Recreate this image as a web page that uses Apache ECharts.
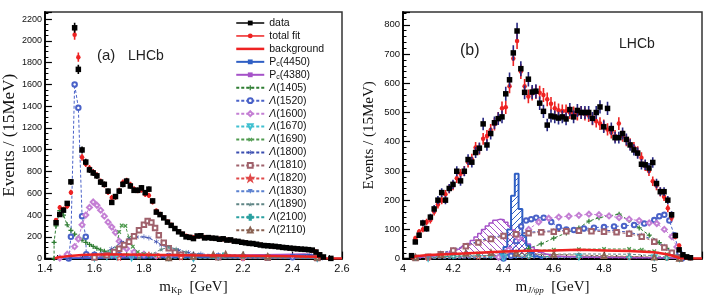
<!DOCTYPE html>
<html><head><meta charset="utf-8">
<script src="https://cdn.jsdelivr.net/npm/echarts@6/dist/echarts.min.js"></script>
<style>html,body{margin:0;padding:0;background:#fff}#c{width:708px;height:300px}</style>
</head><body><div id="c"></div>
<script>
// ---------------- data: panel (a), m_Kp, 15 MeV bins ----------------
const kpStart = 1.445, kpStep = 0.015;
const kpData = [330,405,445,507,705,2120,1738,998,887,815,787,760,703,682,620,516,570,620,682,712,667,627,627,650,606,638,530,427,404,374,335,305,276,246,225,200,195,184,208,210,190,193,188,186,178,182,170,172,160,158,150,145,140,138,132,125,120,118,115,112,108,103,100,96,93,90,87,85,82,78,60,35,15,null,2];
const kpFit = [355,470,455,480,608,2055,1850,930,870,830,795,765,710,680,610,560,565,625,700,715,680,640,625,630,590,580,520,440,410,375,340,310,280,250,228,210,200,195,205,205,198,195,190,186,183,178,172,168,162,158,152,148,142,138,132,127,122,118,114,110,106,102,98,94,90,88,85,82,80,75,65,40,15];
const kpBkg = [[1.44,0],[1.45,10],[1.5,25],[1.55,33],[1.6,38],[1.7,38],[1.8,35],[1.9,33],[2.0,30],[2.1,28],[2.2,26],[2.3,24],[2.4,22],[2.5,18],[2.52,5],[2.53,0],[2.6,0]];
const kpPc4450 = [[1.45,0],[1.5,2],[1.7,5],[1.9,10],[2.1,14],[2.3,20],[2.4,28],[2.47,35],[2.5,22],[2.52,3]];
const kpPc4380 = [[1.45,1],[1.6,12],[1.8,22],[2.0,28],[2.2,32],[2.35,38],[2.45,42],[2.5,28],[2.52,4]];
const kpL1405 = [[1.437,0],[1.437,150],[1.445,300],[1.46,440],[1.475,400],[1.49,310],[1.505,260],[1.52,225],[1.535,195],[1.55,170],[1.565,150],[1.58,130],[1.595,112],[1.61,95],[1.625,80],[1.64,68],[1.655,58],[1.67,50],[1.7,42],[1.73,38],[1.76,35],[1.79,32],[1.82,28],[1.85,22],[1.9,15],[1.95,10],[2.0,6],[2.1,4],[2.3,2],[2.5,0]];
const kpL1520 = [[1.496,0],[1.497,20],[1.505,200],[1.52,1600],[1.535,1385],[1.55,390],[1.565,200],[1.567,40],[1.6,35],[1.65,32],[1.7,30],[1.8,28],[1.9,25],[2.0,22],[2.1,20],[2.2,18],[2.3,15],[2.4,12],[2.5,10]];
const kpL1600 = [[1.46,5],[1.49,40],[1.52,110],[1.535,180],[1.55,310],[1.565,400],[1.58,470],[1.595,520],[1.61,490],[1.625,445],[1.64,390],[1.655,335],[1.67,290],[1.685,240],[1.70,160],[1.715,115],[1.73,90],[1.76,60],[1.8,40],[1.85,25],[1.9,15],[2.0,10],[2.2,8],[2.5,5]];
const kpL1670 = [[1.6,5],[1.65,20],[1.67,35],[1.69,20],[1.75,8],[2.0,3],[2.5,2]];
const kpL1690 = [[1.6,15],[1.64,30],[1.67,60],[1.69,90],[1.70,245],[1.71,305],[1.725,300],[1.74,190],[1.755,110],[1.775,60],[1.8,40],[1.85,30],[1.9,25],[2.0,20],[2.2,15],[2.5,10]];
const kpL1800 = [[1.5,5],[1.55,10],[1.6,25],[1.63,45],[1.67,90],[1.71,150],[1.74,178],[1.77,198],[1.8,200],[1.82,190],[1.85,155],[1.87,125],[1.9,102],[1.94,75],[1.98,55],[2.03,42],[2.1,35],[2.2,30],[2.3,28],[2.4,30],[2.47,35],[2.5,20],[2.52,5]];
const kpL1810 = [[1.6,10],[1.65,30],[1.68,60],[1.7,90],[1.72,125],[1.74,155],[1.76,205],[1.78,260],[1.8,310],[1.815,345],[1.83,332],[1.845,280],[1.86,214],[1.88,145],[1.9,94],[1.925,55],[1.95,35],[2.0,20],[2.1,12],[2.3,8],[2.5,5]];
const kpL1820 = [[1.7,5],[1.78,25],[1.82,40],[1.86,25],[1.95,10],[2.2,5],[2.5,3]];
const kpL1830 = [[1.75,5],[1.83,20],[1.9,10],[2.1,5],[2.5,3]];
const kpL1890 = [[1.78,10],[1.83,40],[1.87,85],[1.9,105],[1.93,90],[1.97,60],[2.02,35],[2.1,20],[2.3,12],[2.5,8]];
const kpL2100 = [[1.9,2],[2.0,10],[2.08,25],[2.12,30],[2.2,22],[2.3,12],[2.5,5]];
const kpL2110 = [[1.9,5],[2.0,20],[2.08,35],[2.13,40],[2.2,32],[2.3,20],[2.5,10]];

// ---------------- data: panel (b), m_J/psi p, 15 MeV bins ----------------
const jpStart = 4.034, jpStep = 0.015;
const jpData = [10,57,80,122,102,142,170,200,226,200,240,254,299,266,299,339,330,363,378,461,389,428,465,479,485,564,612,704,779,650,569,614,570,573,532,504,457,488,485,481,485,478,510,485,507,500,500,500,480,500,519,451,514,445,414,414,428,408,389,372,361,323,321,310,329,257,229,229,200,150,79,30,13,6,3];
const jpFit = [8,70,92,100,125,132,160,185,200,220,238,250,275,290,300,330,340,380,375,410,420,440,460,480,515,518,590,685,745,640,590,555,565,570,568,560,545,530,515,508,505,505,500,498,495,500,495,490,478,470,462,455,442,432,420,462,420,405,392,380,365,345,318,300,265,250,228,212,172,140,75,45,15,4,1];
const jpBkg = [[4.03,0],[4.05,8],[4.1,12],[4.2,16],[4.3,20],[4.4,24],[4.5,27],[4.6,28],[4.7,30],[4.8,28],[4.9,26],[5.0,22],[5.05,15],[5.08,8],[5.1,2],[5.12,0],[5.19,0]];
const jpPc4450 = [[4.3775,3],[4.3925,15],[4.4075,40],[4.4225,100],[4.4375,215],[4.4525,290],[4.4675,170],[4.4825,78],[4.4975,45],[4.5125,20],[4.5275,8],[4.5425,3],[4.5575,0]];
const jpPc4380 = [[4.05,3],[4.08,6],[4.11,9],[4.14,13],[4.17,18],[4.2,25],[4.215,30],[4.23,36],[4.245,44],[4.26,52],[4.275,62],[4.29,74],[4.305,86],[4.32,100],[4.335,112],[4.35,122],[4.365,131],[4.38,135],[4.395,133],[4.41,124],[4.425,112],[4.44,98],[4.455,86],[4.47,72],[4.485,60],[4.5,50],[4.515,38],[4.53,30],[4.545,22],[4.56,16],[4.575,12],[4.6,8],[4.65,6],[4.7,5],[4.8,4],[4.9,3],[5.0,3],[5.1,0]];
const jpL1405 = [[4.4,5],[4.45,20],[4.5,35],[4.55,50],[4.6,70],[4.65,88],[4.7,105],[4.74,128],[4.78,140],[4.82,146],[4.86,152],[4.9,130],[4.94,105],[4.98,80],[5.02,55],[5.05,35],[5.08,12],[5.1,0]];
const jpL1520 = [[4.4,0],[4.43,10],[4.45,60],[4.47,110],[4.49,130],[4.51,135],[4.53,140],[4.56,140],[4.59,125],[4.62,108],[4.65,100],[4.68,98],[4.72,103],[4.76,106],[4.8,108],[4.84,110],[4.88,112],[4.92,115],[4.96,120],[5.0,132],[5.02,145],[5.04,150],[5.06,130],[5.08,80],[5.1,20],[5.11,0]];
const jpL1600 = [[4.38,5],[4.42,30],[4.46,70],[4.5,100],[4.54,125],[4.58,138],[4.62,142],[4.66,145],[4.7,148],[4.74,152],[4.78,150],[4.82,146],[4.86,140],[4.9,135],[4.94,130],[4.98,122],[5.01,120],[5.04,100],[5.07,75],[5.09,40],[5.11,5]];
const jpL1670 = [[4.1,1],[4.4,4],[4.7,6],[5.0,4],[5.1,0]];
const jpL1690 = [[4.1,3],[4.2,10],[4.3,18],[4.4,24],[4.5,28],[4.6,30],[4.7,32],[4.8,33],[4.9,33],[4.95,30],[5.0,25],[5.05,15],[5.1,2]];
const jpL1800 = [[4.05,2],[4.1,8],[4.15,18],[4.2,30],[4.25,45],[4.3,60],[4.35,72],[4.4,80],[4.45,86],[4.5,90],[4.55,93],[4.6,95],[4.65,97],[4.7,98],[4.75,98],[4.8,97],[4.85,95],[4.9,90],[4.95,80],[5.0,62],[5.04,42],[5.07,22],[5.1,5]];
const jpL1810 = [[4.05,2],[4.1,6],[4.15,15],[4.2,28],[4.25,42],[4.3,55],[4.35,67],[4.4,77],[4.45,83],[4.5,87],[4.55,90],[4.6,92],[4.65,94],[4.7,95],[4.75,94],[4.8,92],[4.85,90],[4.9,85],[4.95,75],[5.0,58],[5.04,38],[5.07,20],[5.1,3]];
const jpL1820 = [[4.1,2],[4.3,6],[4.5,8],[4.7,8],[4.9,6],[5.05,3],[5.1,0]];
const jpL1830 = [[4.1,1],[4.4,4],[4.7,5],[5.0,3],[5.1,0]];
const jpL1890 = [[4.1,2],[4.3,10],[4.5,14],[4.7,16],[4.9,15],[5.0,10],[5.1,0]];
const jpL2100 = [[4.05,3],[4.2,8],[4.35,10],[4.5,8],[4.7,6],[4.9,5],[5.05,2],[5.1,0]];
const jpL2110 = [[4.05,5],[4.15,12],[4.25,18],[4.35,20],[4.45,18],[4.6,14],[4.8,10],[5.0,5],[5.1,0]];

const legendNames = ['data','total fit','background','Pc(4450)','Pc(4380)','Λ(1405)','Λ(1520)','Λ(1600)','Λ(1670)','Λ(1690)','Λ(1800)','Λ(1810)','Λ(1820)','Λ(1830)','Λ(1890)','Λ(2100)','Λ(2110)'];
const kpComps = [kpL1405,kpL1520,kpL1600,kpL1670,kpL1690,kpL1800,kpL1810,kpL1820,kpL1830,kpL1890,kpL2100,kpL2110];
const jpComps = [jpL1405,jpL1520,jpL1600,jpL1670,jpL1690,jpL1800,jpL1810,jpL1820,jpL1830,jpL1890,jpL2100,jpL2110];

// ---------------- styles ----------------
const PLUS = 'path://M3,0H5V3H8V5H5V8H3V5H0V3H3Z';
const AST = 'path://M3.5,0H4.5V3.3L7.3,1.7L7.8,2.5L5,4L7.8,5.5L7.3,6.3L4.5,4.7V8H3.5V4.7L0.7,6.3L0.2,5.5L3,4L0.2,2.5L0.7,1.7L3.5,3.3Z';
const STAR = 'path://M5,0L6.2,3.6L10,3.6L6.9,5.9L8.1,9.5L5,7.3L1.9,9.5L3.1,5.9L0,3.6L3.8,3.6Z';
const compStyles = [
  {color:'#2e7d32', symbol:PLUS, size:5},
  {color:'#4a62c8', symbol:'emptyCircle', size:4.5},
  {color:'#c47fd4', symbol:'emptyDiamond', size:5},
  {color:'#40c0d0', symbol:'emptyTriangle', rot:180, size:4.5},
  {color:'#4e9a4e', symbol:PLUS, rot:45, size:5},
  {color:'#3a4db0', symbol:AST, size:5},
  {color:'#a0626c', symbol:'emptyRect', size:4.5},
  {color:'#e04848', symbol:STAR, size:5, empty:true},
  {color:'#5a80d0', symbol:'triangle', rot:180, size:4.5},
  {color:'#5f8585', symbol:STAR, size:5},
  {color:'#2aa0a0', symbol:PLUS, size:5, empty:true},
  {color:'#8a6252', symbol:'emptyTriangle', size:4.5}
];
const RED = '#ee2222', BLUE = '#2f5fc4', PURPLE = '#a552c8';

function hatch(color, dir) {
  const c = document.createElement('canvas'); c.width = 6; c.height = 6;
  const g = c.getContext('2d'); g.strokeStyle = color; g.lineWidth = 1;
  g.beginPath();
  if (dir > 0) { g.moveTo(-1,7); g.lineTo(7,-1); g.moveTo(-1,1); g.lineTo(1,-1); g.moveTo(5,7); g.lineTo(7,5); }
  else { g.moveTo(-1,-1); g.lineTo(7,7); g.moveTo(5,-1); g.lineTo(7,1); g.moveTo(-1,5); g.lineTo(1,7); }
  g.stroke(); return c;
}

function binned(start, step, arr) { return arr.map((v,i)=>[+(start+step*i).toFixed(4), v]); }
function errPts(start, step, arr) {
  const out = [];
  arr.forEach((v,i)=>{ if (v != null) out.push([start+step*i, v, Math.sqrt(Math.max(v,1))]); });
  return out;
}
function errSeries(ax, pts, color, z) {
  return {type:'custom', xAxisIndex:ax, yAxisIndex:ax, data:pts, z:z, silent:true, clip:true,
    encode:{x:0,y:1},
    renderItem:(params, api)=>{
      const x=api.value(0), y=api.value(1), e=api.value(2);
      const a=api.coord([x,y+e]), b=api.coord([x,y-e]);
      return {type:'line', shape:{x1:a[0],y1:a[1],x2:b[0],y2:b[1]}, style:{stroke:color, lineWidth:1.6}};
    }};
}
function pointSeries(ax, name, data, symbol, size, color, z) {
  return {type:'line', name, xAxisIndex:ax, yAxisIndex:ax, data, symbol, symbolSize:size,
    showAllSymbol:true, connectNulls:false, z, itemStyle:{color},
    lineStyle:{color, width:1.5, opacity:0}};
}
function compSeries(ax, name, pts, st) {
  return {type:'line', name, xAxisIndex:ax, yAxisIndex:ax, data:pts, symbol:st.symbol,
    symbolSize:st.size, symbolRotate:st.rot||0, showAllSymbol:true, z:2,
    lineStyle:{color:st.color, width:1, type:[3,2]},
    itemStyle: st.empty ? {color:'#fff', borderColor:st.color, borderWidth:1} : {color:st.color}};
}

const series = [];
function buildPanel(ax, dStart, dStep, dArr, fArr, bkg, pc50, pc80, comps, errColor, histo) {
  comps.forEach((pts,i)=>series.push(compSeries(ax, legendNames[5+i], pts, compStyles[i])));
  series.push({type:'line', name:'Pc(4380)', xAxisIndex:ax, yAxisIndex:ax, data:pc80, step: histo?'middle':false,
    symbol:'rect', symbolSize:5, showSymbol:false, z:2, itemStyle:{color:PURPLE},
    lineStyle:{color:PURPLE, width:1.5},
    areaStyle: histo ? {color:{image:hatch(PURPLE,-1), repeat:'repeat'}, opacity:1} : null});
  series.push({type:'line', name:'Pc(4450)', xAxisIndex:ax, yAxisIndex:ax, data:pc50, step: histo?'middle':false,
    symbol:'rect', symbolSize:5, showSymbol:false, z:2, itemStyle:{color:BLUE},
    lineStyle:{color:BLUE, width: histo?2:1.5},
    areaStyle: histo ? {color:{image:hatch(BLUE,1), repeat:'repeat'}, opacity:1} : null});
  series.push({type:'line', name:'background', xAxisIndex:ax, yAxisIndex:ax, data:bkg, symbol:'none', z:3,
    itemStyle:{color:RED}, lineStyle:{color:RED, width:2.5}});
  series.push(errSeries(ax, errPts(dStart,dStep,fArr), RED, 4));
  series.push(pointSeries(ax, 'total fit', binned(dStart,dStep,fArr), 'circle', 4.5, RED, 4));
  series.push(errSeries(ax, errPts(dStart,dStep,dArr), errColor, 5));
  series.push(pointSeries(ax, 'data', binned(dStart,dStep,dArr), 'rect', 5.5, '#000', 6));
}
buildPanel(0, kpStart, kpStep, kpData, kpFit, kpBkg, kpPc4450, kpPc4380, kpComps, '#000', false);
buildPanel(1, jpStart, jpStep, jpData, jpFit, jpBkg, jpPc4450, jpPc4380, jpComps, '#262680', true);

const tickCommon = {inside:true, length:7, lineStyle:{color:'#000', width:1.2}};
const minorCommon = (n)=>({show:true, splitNumber:n, length:3.5, lineStyle:{color:'#000', width:1}});
const lineCommon = {onZero:false, lineStyle:{color:'#000', width:1.8}};
const serif = 'Liberation Serif', sans = 'Liberation Sans';
const plain = (v)=>String(Math.round(v*100)/100);

const option = {
  animation:false,
  backgroundColor:'#fff',
  grid:[
    {left:42, top:12, width:300, height:250, show:true, borderColor:'#333', borderWidth:1.5, backgroundColor:'transparent'},
    {left:403, top:12, width:299, height:250, show:true, borderColor:'#333', borderWidth:1.5, backgroundColor:'transparent'}
  ],
  xAxis:[
    {type:'value', gridIndex:0, min:1.4, max:2.6, interval:0.2, axisLine:lineCommon, axisTick:tickCommon,
     minorTick:minorCommon(4), splitLine:{show:false},
     axisLabel:{fontSize:11, fontFamily:sans, color:'#111', margin:5, formatter:plain},
     name:'{m|m}{s|Kp}{m|  [GeV]}', nameLocation:'middle', nameGap:20,
     nameTextStyle:{fontFamily:serif, fontSize:15, color:'#111', rich:{m:{fontFamily:serif, fontSize:15, lineHeight:16}, s:{fontFamily:serif, fontSize:9, lineHeight:6, verticalAlign:'bottom'}}}},
    {type:'value', gridIndex:1, min:4, max:5.19, interval:0.2, axisLine:lineCommon, axisTick:tickCommon,
     minorTick:minorCommon(4), splitLine:{show:false},
     axisLabel:{fontSize:11, fontFamily:sans, color:'#111', margin:5, showMaxLabel:false, formatter:plain},
     name:'{m|m}{s|J/ψp}{m|  [GeV]}', nameLocation:'middle', nameGap:20,
     nameTextStyle:{fontFamily:serif, fontSize:15, color:'#111', rich:{m:{fontFamily:serif, fontSize:15, lineHeight:16}, s:{fontFamily:serif, fontStyle:'italic', fontSize:9, lineHeight:6, verticalAlign:'bottom'}}}}
  ],
  yAxis:[
    {type:'value', gridIndex:0, min:0, max:2265, interval:200, axisLine:lineCommon, axisTick:tickCommon,
     minorTick:minorCommon(4), splitLine:{show:false},
     axisLabel:{fontSize:9, fontFamily:sans, color:'#111', margin:3, showMaxLabel:false, formatter:plain},
     name:'Events / (15MeV)', nameLocation:'middle', nameGap:24,
     nameTextStyle:{fontFamily:serif, fontSize:17, color:'#111'}},
    {type:'value', gridIndex:1, min:0, max:844, interval:100, axisLine:lineCommon, axisTick:tickCommon,
     minorTick:minorCommon(5), splitLine:{show:false},
     axisLabel:{fontSize:9.5, fontFamily:sans, color:'#111', margin:3, showMaxLabel:false, formatter:plain},
     name:'Events / (15MeV)', nameLocation:'middle', nameGap:26,
     nameTextStyle:{fontFamily:serif, fontSize:15, color:'#111'}}
  ],
  legend:{
    orient:'vertical', left:235, top:17, padding:0, itemWidth:28, itemHeight:6, itemGap:0.95, selectedMode:false,
    textStyle:{fontSize:10.5, fontFamily:sans, color:'#111', lineHeight:12,
      rich:{s:{fontSize:7, fontFamily:sans, lineHeight:5, verticalAlign:'bottom'},
            i:{fontSize:10.5, fontFamily:sans, fontStyle:'italic', lineHeight:12}}},
    formatter:(n)=> n.startsWith('Pc') ? 'P{s|c}' + n.slice(2) : (n.startsWith('Λ') ? '{i|Λ}' + n.slice(1) : n),
    data: legendNames.map(n => (n==='data'||n==='total fit') ? {name:n, lineStyle:{opacity:1, width:1.5}}
                              : (n==='background' ? {name:n, itemStyle:{opacity:0}, lineStyle:{width:2.5}} : {name:n}))
  },
  graphic:[
    {type:'text', left:97, top:48, style:{text:'(a)', font:'15px "Liberation Sans"', fill:'#222'}},
    {type:'text', left:128, top:49, style:{text:'LHCb', font:'14px "Liberation Sans"', fill:'#222'}},
    {type:'text', left:460, top:43, style:{text:'(b)', font:'16px "Liberation Sans"', fill:'#222'}},
    {type:'text', left:619, top:37, style:{text:'LHCb', font:'14px "Liberation Sans"', fill:'#222'}}
  ],
  series
};
const chart = echarts.init(document.getElementById('c'), null, {renderer:'canvas'});
chart.setOption(option);
</script></body></html>
